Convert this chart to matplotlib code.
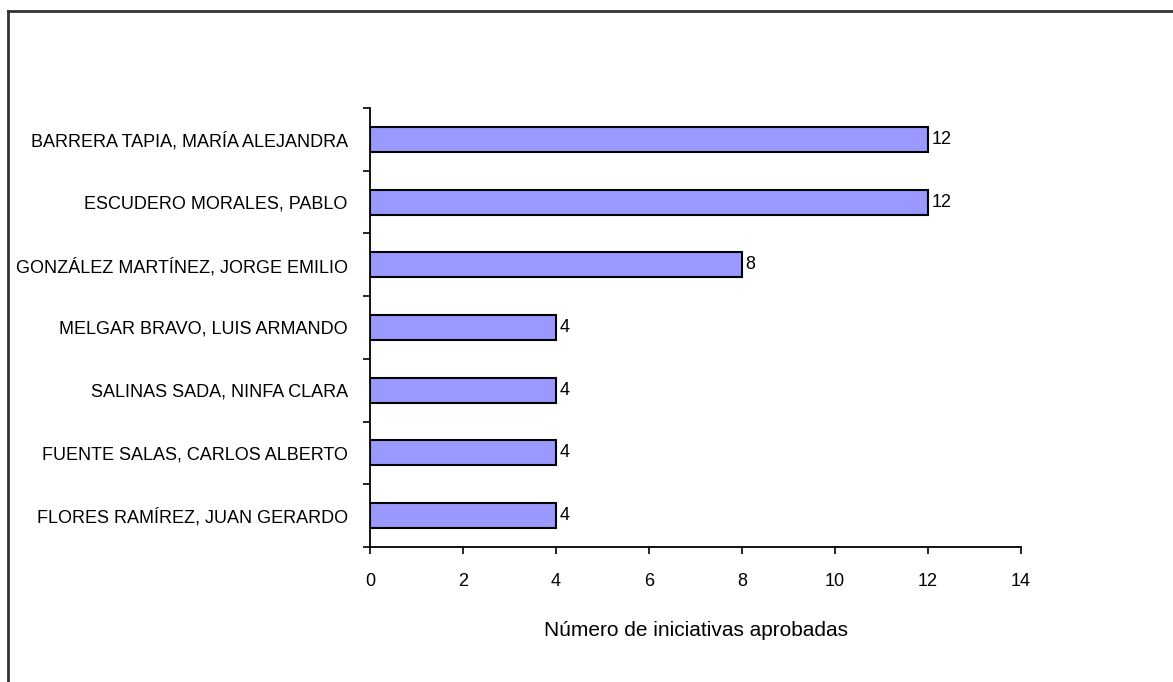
import matplotlib
matplotlib.use("Agg")
import matplotlib.pyplot as plt
from matplotlib.lines import Line2D

# --- Data ---
nombres = [
    "BARRERA TAPIA, MARÍA ALEJANDRA",
    "ESCUDERO MORALES, PABLO",
    "GONZÁLEZ MARTÍNEZ, JORGE EMILIO",
    "MELGAR BRAVO, LUIS ARMANDO",
    "SALINAS SADA, NINFA CLARA",
    "FUENTE SALAS, CARLOS ALBERTO",
    "FLORES RAMÍREZ, JUAN GERARDO",
]
iniciativas = [12, 12, 8, 4, 4, 4, 4]
x_ticks = [0, 2, 4, 6, 8, 10, 12, 14]

plt.rcParams['font.family'] = ['Liberation Sans', 'DejaVu Sans']

fig = plt.figure(figsize=(11.73, 6.82), dpi=100)
ax = fig.add_axes([370 / 1173, 1 - 547 / 682, (1021 - 370) / 1173, (547 - 108) / 682])

# categories from top to bottom
pos = list(range(len(nombres)))[::-1]
ax.barh(pos, iniciativas, height=0.4, color='#9999FF', edgecolor='black', linewidth=1.5)

for p, v in zip(pos, iniciativas):
    ax.text(v + 0.07, p, str(v), va='center', ha='left', fontsize=13)

ax.set_xlim(0, 14)
ax.set_ylim(-0.5, len(nombres) - 0.5)
ax.set_xticks(x_ticks)
ax.set_xticklabels([str(t) for t in x_ticks], fontsize=13)
ax.set_yticks(pos)
ax.set_yticklabels(nombres, fontsize=13)
ax.tick_params(axis='y', length=0, pad=16)
ax.tick_params(axis='x', length=5, width=1.2, pad=14)

# y ticks between categories
ax.set_yticks([p - 0.5 for p in range(len(nombres) + 1)], minor=True)
ax.tick_params(axis='y', which='minor', length=5, width=1.2)

ax.spines['top'].set_visible(False)
ax.spines['right'].set_visible(False)
ax.spines['left'].set_linewidth(1.3)
ax.spines['bottom'].set_linewidth(1.3)

ax.set_xlabel("Número de iniciativas aprobadas", fontsize=15, labelpad=22)

# frame around chart area (left and top only visible)
fig.add_artist(Line2D([8 / 1173, 8 / 1173], [0, 1 - 11 / 682], color='#333333', linewidth=2))
fig.add_artist(Line2D([8 / 1173, 1], [1 - 11 / 682, 1 - 11 / 682], color='#333333', linewidth=2))

fig.savefig("out.png", dpi=100, facecolor='white')
